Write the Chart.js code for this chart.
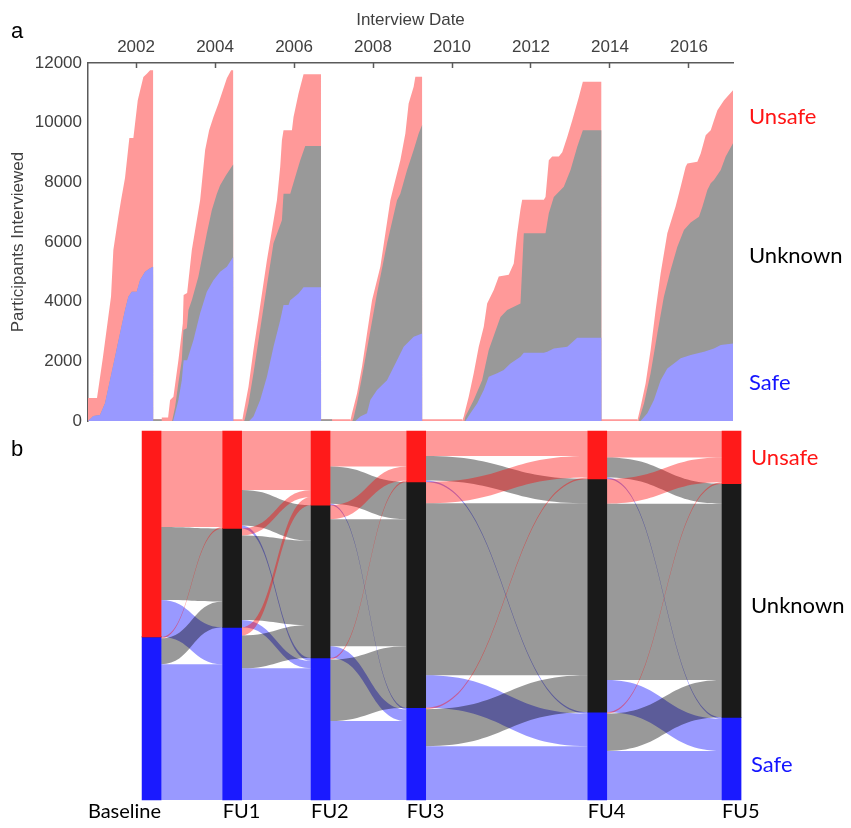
<!DOCTYPE html>
<html>
<head>
<meta charset="utf-8">
<script src="https://cdn.jsdelivr.net/npm/chart.js@4.4.1/dist/chart.umd.min.js"></script>
<style>
  html, body { margin: 0; padding: 0; background: #ffffff; }
  #wrap { position: relative; width: 851px; height: 828px; }
  #wrap canvas { position: absolute; left: 0; top: 0; }
</style>
</head>
<body>
<div id="wrap">
  <canvas id="timeline" width="851" height="828"></canvas>
  <canvas id="alluvial" width="851" height="828"></canvas>
</div>
<script>
// ---------- Panel a: cumulative participants interviewed, per wave ----------
// Each series is [interview date (decimal year), cumulative count].
// "All" = everyone interviewed so far, "SafeUnknown" = safe + unknown, "Safe" = safe only.
const yearTicks = [2002, 2004, 2006, 2008, 2010, 2012, 2014, 2016];

const baselineAll = [[2000.783,770],[2001.011,770],[2001.163,2150],[2001.366,4170],[2001.425,5730],[2001.551,6850],[2001.620,7400],[2001.721,8150],[2001.830,9490],[2001.932,9490],[2002.043,10750],[2002.185,11530],[2002.279,11650],[2002.355,11760],[2002.431,11760],[2002.433,60],[2002.650,60]];
const baselineSafeUnknown = [[2000.783,0],[2000.918,168],[2001.087,200],[2001.214,593],[2001.341,1375],[2001.468,2156],[2001.594,2940],[2001.721,3722],[2001.805,4168],[2001.891,4336],[2002.018,4336],[2002.101,4728],[2002.228,5006],[2002.355,5120],[2002.431,5174],[2002.433,60],[2002.650,60]];
const baselineSafe = [[2000.783,0],[2000.918,168],[2001.087,200],[2001.214,593],[2001.341,1375],[2001.468,2156],[2001.594,2940],[2001.721,3722],[2001.805,4168],[2001.891,4336],[2002.018,4336],[2002.101,4728],[2002.228,5006],[2002.355,5120],[2002.431,5174],[2002.433,0]];

const fu1All = [[2002.651,120],[2002.811,120],[2002.862,700],[2002.946,815],[2003.072,2040],[2003.184,3280],[2003.204,4220],[2003.293,4290],[2003.412,5730],[2003.622,7400],[2003.749,9080],[2003.850,9750],[2003.959,10190],[2004.086,10640],[2004.299,11490],[2004.408,11760],[2004.458,11760],[2004.460,60],[2004.686,60]];
const fu1SafeUnknown = [[2002.651,0],[2002.913,0],[2002.989,480],[2003.072,1270],[2003.158,2040],[2003.199,3050],[2003.285,3110],[2003.326,3720],[2003.412,4050],[2003.579,4840],[2003.792,6290],[2003.919,7070],[2004.046,7620],[2004.129,7900],[2004.281,8250],[2004.458,8600],[2004.460,0]];
const fu1Safe = [[2002.938,0],[2002.989,260],[2003.072,700],[2003.158,1370],[2003.204,2040],[2003.293,2040],[2003.452,2710],[2003.622,3610],[2003.792,4330],[2003.959,4720],[2004.129,5000],[2004.299,5170],[2004.458,5500],[2004.460,0]];

const fu2All = [[2004.687,0],[2004.720,260],[2004.847,1150],[2004.973,2380],[2005.100,3490],[2005.313,5390],[2005.567,7400],[2005.650,8520],[2005.693,9410],[2005.734,9750],[2005.947,9750],[2005.987,10190],[2006.114,10980],[2006.241,11620],[2006.682,11620],[2006.684,60],[2007.424,60]];
const fu2SafeUnknown = [[2004.738,0],[2004.763,100],[2004.847,590],[2004.973,1600],[2005.100,2710],[2005.270,4170],[2005.480,5960],[2005.693,6730],[2005.734,7620],[2005.904,7620],[2006.030,8180],[2006.157,8740],[2006.284,9220],[2006.682,9220],[2006.684,60],[2006.963,60],[2006.965,0]];
const fu2Safe = [[2004.865,0],[2004.973,150],[2005.143,700],[2005.313,1480],[2005.480,2490],[2005.650,3380],[2005.734,3890],[2005.860,3890],[2005.904,4050],[2006.114,4270],[2006.241,4480],[2006.682,4480],[2006.684,0]];

const fu3All = [[2007.425,0],[2007.468,260],[2007.595,925],[2007.721,1820],[2007.848,2930],[2007.975,4050],[2008.185,5170],[2008.439,7400],[2008.522,7850],[2008.692,8740],[2008.819,9640],[2008.902,10640],[2009.029,11200],[2009.072,11540],[2009.242,11540],[2009.244,60],[2010.255,60]];
const fu3SafeUnknown = [[2007.476,0],[2007.508,100],[2007.595,600],[2007.721,1480],[2007.889,2710],[2008.101,4270],[2008.355,5950],[2008.608,7400],[2008.692,7620],[2008.862,8410],[2009.029,9080],[2009.156,9640],[2009.242,9920],[2009.244,0]];
const fu3Safe = [[2007.552,0],[2007.595,50],[2007.679,150],[2007.848,260],[2007.932,700],[2008.101,1040],[2008.355,1370],[2008.608,2040],[2008.776,2490],[2009.029,2820],[2009.242,2930],[2009.244,0]];

const fu4All = [[2010.256,0],[2010.297,150],[2010.423,815],[2010.550,1600],[2010.677,2490],[2010.804,3160],[2010.890,3940],[2011.057,4390],[2011.184,4840],[2011.437,4900],[2011.564,5280],[2011.650,6290],[2011.734,7100],[2011.777,7420],[2012.325,7420],[2012.368,7510],[2012.451,8740],[2012.537,8870],[2012.705,8870],[2012.791,9010],[2012.918,9520],[2013.045,10080],[2013.212,10860],[2013.313,11370],[2013.780,11370],[2013.782,60],[2014.691,60]];
const fu4SafeUnknown = [[2010.314,0],[2010.340,150],[2010.550,700],[2010.763,1370],[2010.930,2380],[2011.227,3490],[2011.397,3720],[2011.734,3940],[2011.818,6290],[2012.368,6290],[2012.451,6960],[2012.578,7510],[2012.831,7850],[2013.001,8410],[2013.171,9190],[2013.313,9750],[2013.780,9750],[2013.782,0]];
const fu4Safe = [[2010.340,0],[2010.466,260],[2010.636,590],[2010.804,1040],[2010.930,1480],[2011.143,1600],[2011.310,1710],[2011.480,1930],[2011.734,2150],[2011.818,2290],[2012.325,2290],[2012.411,2320],[2012.578,2430],[2012.918,2490],[2013.171,2790],[2013.780,2790],[2013.782,0]];

const fu5All = [[2014.692,0],[2014.776,480],[2014.902,1260],[2015.029,2380],[2015.156,3720],[2015.283,4950],[2015.452,6290],[2015.663,7200],[2015.790,7850],[2015.916,8520],[2015.959,8630],[2016.213,8690],[2016.297,8970],[2016.424,9580],[2016.551,9750],[2016.634,10080],[2016.720,10420],[2016.888,10750],[2017.115,11090]];
const fu5SafeUnknown = [[2014.728,0],[2014.736,50],[2014.862,590],[2015.029,1600],[2015.199,2930],[2015.366,4170],[2015.536,5060],[2015.706,5840],[2015.873,6400],[2016.043,6650],[2016.253,6850],[2016.340,7185],[2016.466,7745],[2016.551,7970],[2016.634,8080],[2016.804,8416],[2016.930,8862],[2017.115,9310]];
const fu5Safe = [[2014.776,0],[2014.946,260],[2015.113,700],[2015.283,1370],[2015.452,1760],[2015.620,1930],[2015.790,2100],[2016.043,2210],[2016.381,2320],[2016.634,2430],[2016.804,2550],[2017.115,2600]];

// ---------- Panel b: transitions between waves (% of cohort) ----------
// rows = status at the earlier wave, columns = status at the later wave,
// order [Unsafe, Unknown, Safe]
const waveNames = ['Baseline', 'FU1', 'FU2', 'FU3', 'FU4', 'FU5'];
const waveDates = [2002.393, 2004.433, 2006.672, 2009.093, 2013.678, 2017.078];
const flowBaselineFU1 = [[26.0, 19.8, 10.0], [0, 0, 0], [0.4, 7.0, 36.8]];
const flowFU1FU2 = [[16.0, 9.6, 0.8], [1.9, 22.9, 2.0], [2.2, 8.9, 35.7]];
const flowFU2FU3 = [[9.6, 10.1, 0.4], [3.8, 34.4, 3.2], [0.4, 16.7, 21.4]];
const flowFU3FU4 = [[6.8, 6.6, 0.4], [5.8, 46.6, 8.8], [0.4, 10.0, 14.6]];
const flowFU4FU5 = [[7.2, 5.4, 0.4], [6.7, 47.8, 8.7], [0.4, 10.1, 13.3]];

const statusNames = ['Unsafe', 'Unknown', 'Safe'];

// ---------- shared styling ----------
const axisFont = "'Liberation Sans', Arial, sans-serif";
const labelFont = "Lato, 'Open Sans', sans-serif";
const textColours = ['rgb(255,20,20)', '#000000', 'rgb(20,20,255)'];
const areaColours = ['#ff9999', '#999999', '#9999ff'];
const nodeColours = ['#ff1a1a', '#1a1a1a', '#1a1aff'];
const flowColours = ['rgba(255,0,0,0.4)', 'rgba(0,0,0,0.4)', 'rgba(0,0,255,0.4)'];
const dateMin = 2000.783, dateMax = 2017.115;

function joinWaves(...waves) { return [].concat(...waves); }

// ---------- panel a ----------
const timelineLabels = {
  id: 'timelineLabels',
  afterDraw(chart, args, opts) {
    const { ctx, scales: { y } } = chart;
    ctx.save();
    ctx.fillStyle = '#000';
    ctx.font = `22px ${axisFont}`;
    ctx.textBaseline = 'alphabetic';
    ctx.textAlign = 'left';
    ctx.fillText('a', 11, 38);
    ctx.font = `22px ${labelFont}`;
    ctx.textBaseline = 'middle';
    statusNames.forEach((name, i) => {
      ctx.fillStyle = textColours[i];
      ctx.fillText(name, 749, y.getPixelForValue(opts.anchors[i]));
    });
    ctx.restore();
  }
};

new Chart(document.getElementById('timeline'), {
  type: 'line',
  data: {
    datasets: [
      { label: 'Safe', data: joinWaves(baselineSafe, fu1Safe, fu2Safe, fu3Safe, fu4Safe, fu5Safe),
        backgroundColor: areaColours[2] },
      { label: 'Unknown', data: joinWaves(baselineSafeUnknown, fu1SafeUnknown, fu2SafeUnknown, fu3SafeUnknown, fu4SafeUnknown, fu5SafeUnknown),
        backgroundColor: areaColours[1] },
      { label: 'Unsafe', data: joinWaves(baselineAll, fu1All, fu2All, fu3All, fu4All, fu5All),
        backgroundColor: areaColours[0] }
    ].map(d => Object.assign(d, { fill: 'origin', borderWidth: 0, pointRadius: 0, tension: 0 }))
  },
  options: {
    responsive: false,
    animation: false,
    events: [],
    layout: { padding: { left: 0, top: 0, right: 118, bottom: 407 } },
    plugins: {
      legend: { display: false },
      tooltip: { enabled: false },
      timelineLabels: { anchors: [10200, 5550, 1270] }
    },
    scales: {
      x: {
        type: 'linear', position: 'top', min: dateMin, max: dateMax,
        afterFit: s => { s.height = 63; },
        afterBuildTicks: s => { s.ticks = yearTicks.map(v => ({ value: v })); },
        ticks: { callback: v => String(v), color: '#404040', padding: 10, maxRotation: 0,
                 font: { family: axisFont, size: 17 } },
        grid: { drawOnChartArea: false, drawTicks: true, tickLength: -5, tickColor: '#5a5a5a', tickWidth: 1.5 },
        border: { display: true, color: '#5a5a5a', width: 1.5 },
        title: { display: true, text: 'Interview Date', color: '#404040', padding: { top: 10, bottom: 0 },
                 font: { family: axisFont, size: 17 } }
      },
      y: {
        type: 'linear', min: 0, max: 12000,
        afterFit: s => { s.width = 88; },
        ticks: { stepSize: 2000, callback: v => String(v), color: '#404040', padding: 6,
                 font: { family: axisFont, size: 17 } },
        grid: { display: false, drawTicks: false },
        border: { display: true, color: '#5a5a5a', width: 1.5 },
        title: { display: true, text: 'Participants Interviewed', color: '#404040', padding: { top: 8, bottom: 0 },
                 font: { family: axisFont, size: 17 } }
      }
    }
  },
  plugins: [timelineLabels]
});

// ---------- panel b ----------
const transitions = [flowBaselineFU1, flowFU1FU2, flowFU2FU3, flowFU3FU4, flowFU4FU5];

// share of the cohort in each status at each wave
const nodeSizes = [transitions[0].map(row => row.reduce((a, b) => a + b, 0))];
transitions.forEach(m => nodeSizes.push([0, 1, 2].map(j => m[0][j] + m[1][j] + m[2][j])));

// value at the upper edge of each status block (Unsafe on top, Safe at bottom)
function blockTops(sizes) {
  const [u, k, s] = sizes;
  return [s + k + u, s + k, s];
}

function nodeData(status) {
  return waveDates.map((d, w) => {
    const top = blockTops(nodeSizes[w])[status];
    return { x: d, y: [top - nodeSizes[w][status], top] };
  });
}

const flowRibbons = {
  id: 'flowRibbons',
  beforeDatasetsDraw(chart) {
    const { ctx, scales: { x, y } } = chart;
    const bars = chart.getDatasetMeta(0).data;
    ctx.save();
    transitions.forEach((m, t) => {
      const x0 = x.getPixelForValue(waveDates[t]) + bars[t].width / 2;
      const x1 = x.getPixelForValue(waveDates[t + 1]) - bars[t + 1].width / 2;
      const xm = (x0 + x1) / 2;
      const srcTops = blockTops(nodeSizes[t]);
      const dstTops = blockTops(nodeSizes[t + 1]);
      for (let i = 0; i < 3; i++) {
        for (let j = 0; j < 3; j++) {
          const v = m[i][j];
          if (!v) continue;
          let outAbove = 0, inAbove = 0;
          for (let jj = 0; jj < j; jj++) outAbove += m[i][jj];
          for (let ii = 0; ii < i; ii++) inAbove += m[ii][j];
          const a = srcTops[i] - outAbove;
          const b = dstTops[j] - inAbove;
          const ya0 = y.getPixelForValue(a), ya1 = y.getPixelForValue(a - v);
          const yb0 = y.getPixelForValue(b), yb1 = y.getPixelForValue(b - v);
          ctx.beginPath();
          ctx.moveTo(x0, ya0);
          ctx.bezierCurveTo(xm, ya0, xm, yb0, x1, yb0);
          ctx.lineTo(x1, yb1);
          ctx.bezierCurveTo(xm, yb1, xm, ya1, x0, ya1);
          ctx.closePath();
          ctx.fillStyle = flowColours[j];
          ctx.fill();
        }
      }
    });
    ctx.restore();
  },
  afterDraw(chart, args, opts) {
    const { ctx, scales: { x, y } } = chart;
    const bars = chart.getDatasetMeta(0).data;
    ctx.save();
    ctx.fillStyle = '#000';
    ctx.font = `22px ${axisFont}`;
    ctx.textAlign = 'left';
    ctx.textBaseline = 'alphabetic';
    ctx.fillText('b', 11, 456);
    // wave names under the columns
    ctx.font = `20px ${labelFont}`;
    ctx.textBaseline = 'middle';
    waveNames.forEach((name, w) => {
      const cx = x.getPixelForValue(waveDates[w]);
      const half = bars[w].width / 2;
      if (w === 0) { ctx.textAlign = 'right'; ctx.fillText(name, cx + half, 812); }
      else { ctx.textAlign = 'left'; ctx.fillText(name, cx - half, 812); }
    });
    // status names beside the last column
    ctx.font = `22px ${labelFont}`;
    ctx.textAlign = 'left';
    statusNames.forEach((name, i) => {
      ctx.fillStyle = textColours[i];
      ctx.fillText(name, 751, y.getPixelForValue(opts.anchors[i]));
    });
    ctx.restore();
  }
};

new Chart(document.getElementById('alluvial'), {
  type: 'bar',
  data: {
    datasets: statusNames.map((name, i) => ({
      label: name,
      data: nodeData(i),
      backgroundColor: nodeColours[i],
      borderWidth: 0,
      barThickness: 19,
      grouped: false,
      clip: false
    }))
  },
  options: {
    responsive: false,
    animation: false,
    events: [],
    layout: { padding: { left: 88, top: 431, right: 118, bottom: 28 } },
    plugins: {
      legend: { display: false },
      tooltip: { enabled: false },
      flowRibbons: { anchors: [92.7, 52.6, 9.6] }
    },
    scales: {
      x: { type: 'linear', display: false, offset: false, min: dateMin, max: dateMax },
      y: { type: 'linear', display: false, min: 0, max: 100 }
    }
  },
  plugins: [flowRibbons]
});
</script>
</body>
</html>
